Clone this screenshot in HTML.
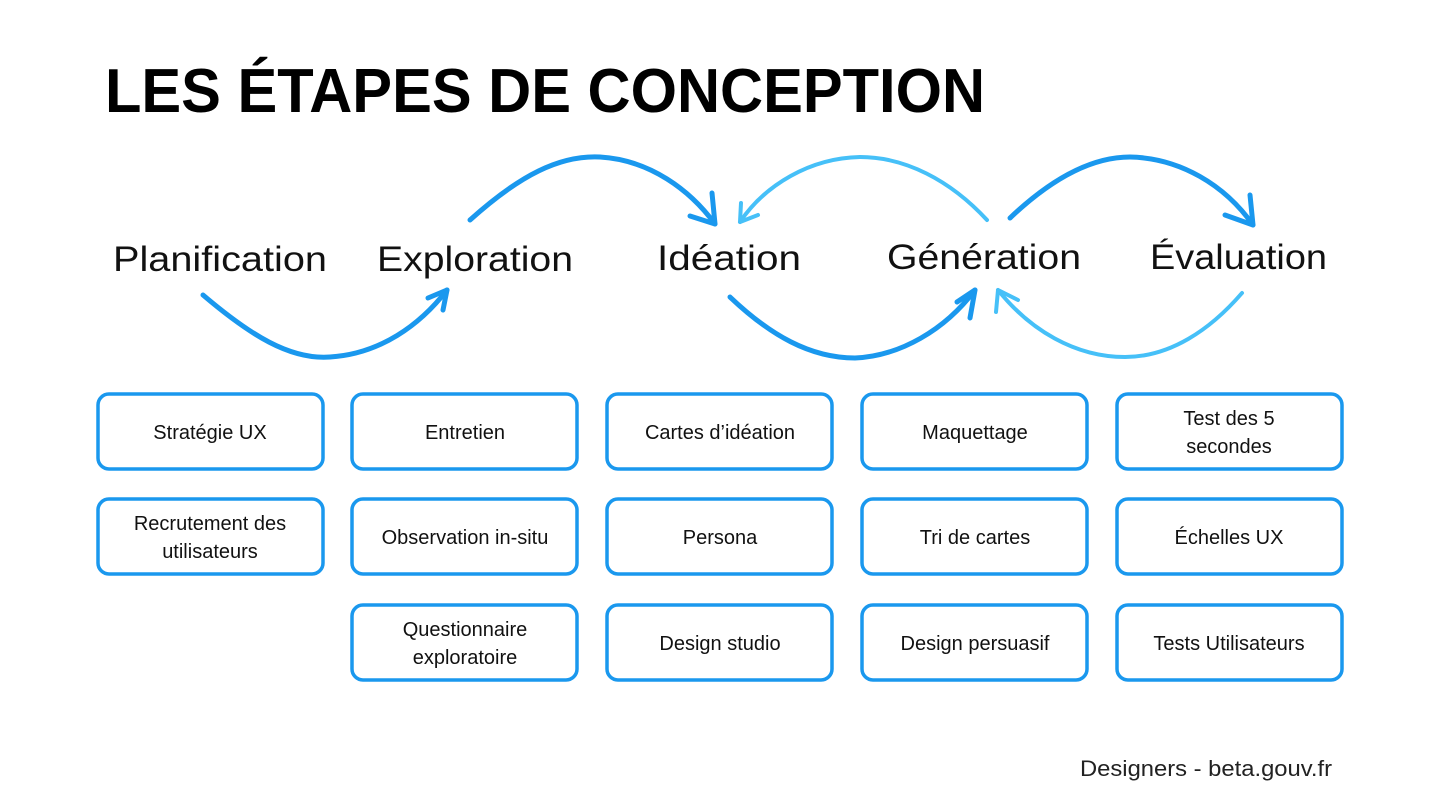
<!DOCTYPE html>
<html><head><meta charset="utf-8"><style>
html,body{margin:0;padding:0;background:#fff;}
svg{display:block;}
</style></head><body>
<svg width="1440" height="808" viewBox="0 0 1440 808" xmlns="http://www.w3.org/2000/svg">
<text x="105" y="112" font-family="Liberation Sans, sans-serif" font-weight="bold" font-size="62" textLength="880" lengthAdjust="spacingAndGlyphs" fill="#000">LES ÉTAPES DE CONCEPTION</text>
<g font-family="Liberation Sans, sans-serif" font-size="35" fill="#111">
<text x="113" y="271" textLength="214" lengthAdjust="spacingAndGlyphs">Planification</text>
<text x="377" y="271" textLength="196" lengthAdjust="spacingAndGlyphs">Exploration</text>
<text x="657" y="270" textLength="144" lengthAdjust="spacingAndGlyphs">Idéation</text>
<text x="887" y="269" textLength="194" lengthAdjust="spacingAndGlyphs">Génération</text>
<text x="1150" y="269" textLength="177" lengthAdjust="spacingAndGlyphs">Évaluation</text>
</g>
<g fill="none" stroke-linecap="round" stroke-linejoin="round" stroke-width="5">
<g stroke="#1a98ee">
<path d="M203,295 C250,335 290,360 330,357 C380,354 420,325 447,290"/>
<path d="M428,298 L447,290 L443,310"/>
<path d="M470,220 C520,175 560,155 600,157 C650,160 690,190 715,224"/>
<path d="M712,193 L715,224 L690,216"/>
<path d="M730,297 C770,335 810,358 855,358 C900,356 945,330 975,290"/>
<path d="M957,302 L975,290 L970,318"/>
<path d="M1010,218 C1050,180 1090,157 1130,157 C1180,158 1225,185 1253,225"/>
<path d="M1250,195 L1253,225 L1225,215"/>
</g>
<g stroke="#46c0f8" stroke-width="4">
<path d="M987,220 C950,180 905,157 860,157 C810,158 765,185 740,222"/>
<path d="M741,203 L740,222 L758,215"/>
<path d="M1242,293 C1210,330 1170,357 1125,357 C1075,357 1030,330 998,290"/>
<path d="M996,312 L998,290 L1018,300"/>
</g>
</g>
<g fill="#fff" stroke="#1a98ee" stroke-width="3.5">
<rect x="98" y="394" width="225" height="75" rx="11"/>
<rect x="98" y="499" width="225" height="75" rx="11"/>
<rect x="352" y="394" width="225" height="75" rx="11"/>
<rect x="352" y="499" width="225" height="75" rx="11"/>
<rect x="352" y="605" width="225" height="75" rx="11"/>
<rect x="607" y="394" width="225" height="75" rx="11"/>
<rect x="607" y="499" width="225" height="75" rx="11"/>
<rect x="607" y="605" width="225" height="75" rx="11"/>
<rect x="862" y="394" width="225" height="75" rx="11"/>
<rect x="862" y="499" width="225" height="75" rx="11"/>
<rect x="862" y="605" width="225" height="75" rx="11"/>
<rect x="1117" y="394" width="225" height="75" rx="11"/>
<rect x="1117" y="499" width="225" height="75" rx="11"/>
<rect x="1117" y="605" width="225" height="75" rx="11"/>
</g>
<g font-family="Liberation Sans, sans-serif" font-size="20" fill="#111" text-anchor="middle">
<text x="210" y="439">Stratégie UX</text>
<text x="210" y="530">Recrutement des</text>
<text x="210" y="558">utilisateurs</text>
<text x="465" y="439">Entretien</text>
<text x="465" y="544">Observation in-situ</text>
<text x="465" y="636">Questionnaire</text>
<text x="465" y="664">exploratoire</text>
<text x="720" y="439">Cartes d’idéation</text>
<text x="720" y="544">Persona</text>
<text x="720" y="650">Design studio</text>
<text x="975" y="439">Maquettage</text>
<text x="975" y="544">Tri de cartes</text>
<text x="975" y="650">Design persuasif</text>
<text x="1229" y="425">Test des 5</text>
<text x="1229" y="453">secondes</text>
<text x="1229" y="544">Échelles UX</text>
<text x="1229" y="650">Tests Utilisateurs</text>
</g>
<text x="1080" y="776" font-family="Liberation Sans, sans-serif" font-size="22" fill="#222" textLength="252" lengthAdjust="spacingAndGlyphs">Designers - beta.gouv.fr</text>
</svg>
</body></html>
